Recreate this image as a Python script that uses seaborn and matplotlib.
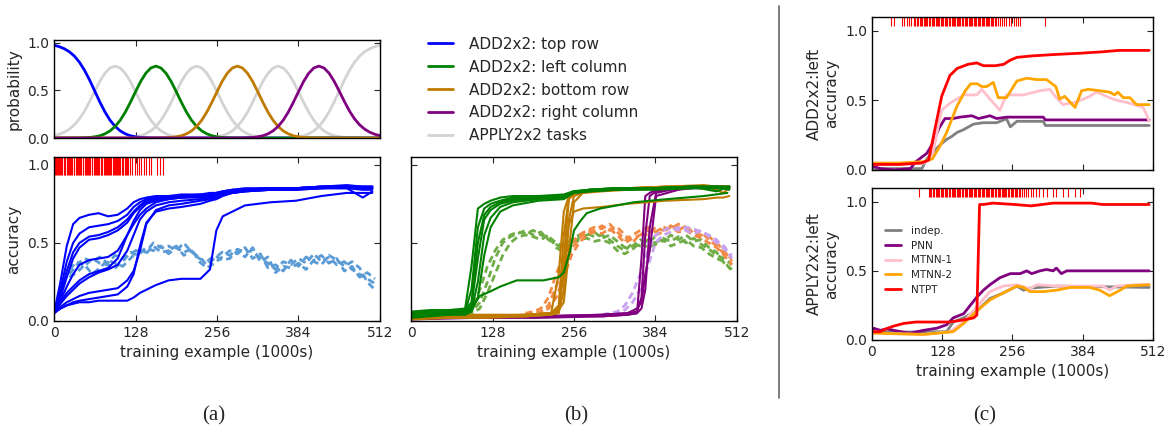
import numpy as np
import pandas as pd
import seaborn as sns
import matplotlib.pyplot as plt
from matplotlib.lines import Line2D

# ---------------- data ----------------
# (a) top: task mixture probability over training (x every 8k examples)
prob_x = np.arange(0, 513, 8)
prob_top_row = [0.975, 0.961, 0.939, 0.907, 0.861, 0.796, 0.711, 0.608, 0.493, 0.378, 0.274,
                0.187, 0.122, 0.075, 0.044, 0.024, 0.013, 0.006, 0.003, 0.001, 0.0005,
                0, 0, 0, 0, 0, 0, 0, 0, 0, 0, 0, 0, 0, 0, 0, 0, 0, 0, 0, 0, 0, 0,
                0, 0, 0, 0, 0, 0, 0, 0, 0, 0, 0, 0, 0, 0, 0, 0, 0, 0, 0, 0, 0, 0]
prob_left_col = [0, 0, 0.0001, 0.0003, 0.0006, 0.0013, 0.003, 0.006, 0.013, 0.024, 0.044, 0.075,
                 0.122, 0.187, 0.273, 0.376, 0.487, 0.594, 0.680, 0.736, 0.756, 0.736, 0.680,
                 0.594, 0.487, 0.376, 0.273, 0.187, 0.122, 0.075, 0.044, 0.024, 0.013, 0.006,
                 0.003, 0.001, 0.0005,
                 0, 0, 0, 0, 0, 0, 0, 0, 0, 0, 0, 0, 0, 0, 0, 0, 0, 0, 0, 0, 0, 0, 0, 0, 0, 0, 0, 0]
prob_bottom_row = [0, 0, 0, 0, 0, 0, 0, 0, 0, 0, 0, 0, 0, 0, 0, 0, 0, 0, 0, 0,
                   0.0005, 0.001, 0.003, 0.006, 0.013, 0.024, 0.044, 0.075, 0.122, 0.187, 0.273,
                   0.376, 0.487, 0.594, 0.680, 0.736, 0.756, 0.736, 0.680, 0.594, 0.487, 0.376,
                   0.273, 0.187, 0.122, 0.075, 0.044, 0.024, 0.013, 0.006, 0.003, 0.001, 0.0005,
                   0, 0, 0, 0, 0, 0, 0, 0, 0, 0, 0, 0]
prob_right_col = [0, 0, 0, 0, 0, 0, 0, 0, 0, 0, 0, 0, 0, 0, 0, 0, 0, 0, 0, 0, 0, 0, 0, 0, 0, 0,
                  0, 0, 0, 0, 0, 0, 0, 0, 0, 0,
                  0.0005, 0.001, 0.003, 0.006, 0.013, 0.024, 0.044, 0.075, 0.122, 0.187, 0.273,
                  0.376, 0.487, 0.594, 0.680, 0.736, 0.756, 0.737, 0.682, 0.597, 0.493, 0.385,
                  0.285, 0.202, 0.139, 0.093, 0.061, 0.039, 0.025]
prob_apply = [
    [0.025, 0.039, 0.061, 0.093, 0.139, 0.202, 0.285, 0.385, 0.493, 0.597, 0.682, 0.737, 0.756,
     0.736, 0.680, 0.594, 0.487, 0.376, 0.273, 0.187, 0.122, 0.075, 0.044, 0.024, 0.013, 0.006,
     0.003, 0.001, 0.0005,
     0, 0, 0, 0, 0, 0, 0, 0, 0, 0, 0, 0, 0, 0, 0, 0, 0, 0, 0, 0, 0, 0, 0, 0, 0, 0, 0, 0, 0, 0,
     0, 0, 0, 0, 0, 0],
    [0, 0, 0, 0, 0, 0, 0, 0, 0, 0, 0, 0,
     0.0005, 0.001, 0.003, 0.006, 0.013, 0.024, 0.044, 0.075, 0.122, 0.187, 0.273, 0.376,
     0.487, 0.594, 0.680, 0.736, 0.756, 0.736, 0.680, 0.594, 0.487, 0.376, 0.273, 0.187,
     0.122, 0.075, 0.044, 0.024, 0.013, 0.006, 0.003, 0.001, 0.0005,
     0, 0, 0, 0, 0, 0, 0, 0, 0, 0, 0, 0, 0, 0, 0, 0, 0, 0, 0, 0],
    [0, 0, 0, 0, 0, 0, 0, 0, 0, 0, 0, 0, 0, 0, 0, 0, 0, 0, 0, 0, 0, 0, 0, 0, 0, 0, 0, 0,
     0.0005, 0.001, 0.003, 0.006, 0.013, 0.024, 0.044, 0.075, 0.122, 0.187, 0.273, 0.376,
     0.487, 0.594, 0.680, 0.736, 0.756, 0.736, 0.680, 0.594, 0.487, 0.376, 0.273, 0.187,
     0.122, 0.075, 0.044, 0.024, 0.013, 0.006, 0.003, 0.001, 0.0005, 0, 0, 0, 0],
    [0, 0, 0, 0, 0, 0, 0, 0, 0, 0, 0, 0, 0, 0, 0, 0, 0, 0, 0, 0, 0, 0, 0, 0, 0, 0, 0, 0,
     0, 0, 0, 0, 0, 0, 0, 0, 0, 0, 0, 0, 0, 0, 0, 0,
     0.0005, 0.001, 0.003, 0.006, 0.013, 0.024, 0.044, 0.075, 0.122, 0.187, 0.274, 0.378,
     0.493, 0.608, 0.711, 0.796, 0.861, 0.907, 0.939, 0.961, 0.975],
]

# (a) bottom: ADD2x2 top row runs (solid) and APPLY runs (dashed)
a_x = [0, 10, 20, 30, 40, 55, 70, 85, 100, 115, 125, 135, 145, 160, 180, 200, 230, 245,
       255, 265, 280, 300, 340, 380, 420, 460, 485, 500]
a_runs = [
    [0.05, 0.25, 0.48, 0.62, 0.66, 0.68, 0.69, 0.67, 0.68, 0.72, 0.76, 0.78, 0.79, 0.80, 0.80, 0.81, 0.81, 0.82, 0.82, 0.83, 0.84, 0.84, 0.85, 0.85, 0.86, 0.87, 0.86, 0.86],
    [0.05, 0.20, 0.38, 0.50, 0.56, 0.60, 0.61, 0.62, 0.64, 0.68, 0.73, 0.76, 0.78, 0.79, 0.80, 0.80, 0.81, 0.81, 0.82, 0.83, 0.84, 0.85, 0.85, 0.85, 0.86, 0.86, 0.85, 0.85],
    [0.05, 0.17, 0.32, 0.44, 0.50, 0.54, 0.55, 0.57, 0.60, 0.65, 0.70, 0.74, 0.77, 0.79, 0.79, 0.80, 0.80, 0.80, 0.81, 0.82, 0.83, 0.84, 0.85, 0.85, 0.86, 0.86, 0.86, 0.86],
    [0.05, 0.15, 0.28, 0.40, 0.47, 0.52, 0.53, 0.55, 0.58, 0.63, 0.69, 0.73, 0.76, 0.78, 0.79, 0.79, 0.80, 0.80, 0.81, 0.82, 0.83, 0.84, 0.85, 0.85, 0.85, 0.86, 0.85, 0.85],
    [0.05, 0.13, 0.22, 0.30, 0.36, 0.39, 0.40, 0.41, 0.45, 0.55, 0.62, 0.68, 0.72, 0.76, 0.78, 0.79, 0.79, 0.80, 0.81, 0.82, 0.83, 0.84, 0.85, 0.85, 0.86, 0.86, 0.86, 0.86],
    [0.05, 0.11, 0.16, 0.20, 0.24, 0.28, 0.31, 0.33, 0.36, 0.45, 0.55, 0.65, 0.70, 0.74, 0.76, 0.77, 0.78, 0.79, 0.80, 0.81, 0.82, 0.83, 0.84, 0.84, 0.85, 0.85, 0.79, 0.83],
    [0.05, 0.09, 0.12, 0.14, 0.16, 0.18, 0.19, 0.20, 0.21, 0.26, 0.32, 0.45, 0.62, 0.71, 0.74, 0.75, 0.77, 0.78, 0.79, 0.81, 0.82, 0.83, 0.84, 0.85, 0.85, 0.86, 0.85, 0.85],
    [0.05, 0.08, 0.10, 0.12, 0.13, 0.14, 0.15, 0.16, 0.17, 0.22, 0.30, 0.48, 0.63, 0.70, 0.72, 0.73, 0.75, 0.77, 0.78, 0.80, 0.82, 0.83, 0.84, 0.84, 0.85, 0.85, 0.84, 0.84],
    [0.05, 0.08, 0.10, 0.11, 0.12, 0.12, 0.13, 0.13, 0.13, 0.13, 0.15, 0.18, 0.20, 0.23, 0.26, 0.27, 0.27, 0.33, 0.58, 0.67, 0.70, 0.74, 0.76, 0.77, 0.80, 0.82, 0.82, 0.82],
    [0.05, 0.12, 0.18, 0.22, 0.26, 0.30, 0.32, 0.34, 0.40, 0.55, 0.64, 0.71, 0.75, 0.77, 0.78, 0.79, 0.80, 0.81, 0.82, 0.82, 0.83, 0.84, 0.85, 0.85, 0.86, 0.86, 0.85, 0.85],
]
a_dash_x = np.arange(24, 505, 12)
a_dash_runs = [
    [0.30, 0.36, 0.40, 0.38, 0.41, 0.37, 0.42, 0.40, 0.43, 0.46, 0.44, 0.50, 0.47, 0.48, 0.45, 0.50, 0.44, 0.41, 0.36, 0.40, 0.44, 0.42, 0.46, 0.44, 0.45, 0.40, 0.37, 0.33, 0.38, 0.36, 0.40, 0.37, 0.43, 0.38, 0.41, 0.36, 0.38, 0.33, 0.30, 0.27, 0.24],
    [0.33, 0.38, 0.35, 0.40, 0.37, 0.36, 0.34, 0.38, 0.44, 0.42, 0.47, 0.45, 0.48, 0.43, 0.47, 0.44, 0.46, 0.38, 0.34, 0.37, 0.41, 0.45, 0.43, 0.47, 0.40, 0.43, 0.34, 0.36, 0.32, 0.39, 0.35, 0.41, 0.38, 0.36, 0.42, 0.39, 0.35, 0.38, 0.34, 0.25, 0.20],
    [0.28, 0.31, 0.36, 0.30, 0.34, 0.39, 0.37, 0.35, 0.40, 0.45, 0.43, 0.48, 0.44, 0.45, 0.48, 0.42, 0.45, 0.40, 0.38, 0.42, 0.39, 0.40, 0.45, 0.41, 0.47, 0.38, 0.41, 0.31, 0.35, 0.34, 0.37, 0.33, 0.39, 0.42, 0.37, 0.40, 0.32, 0.35, 0.28, 0.31, 0.27],
]
a_rug = [1, 3, 4, 6, 8, 10, 11, 13, 15, 17, 18, 20, 22, 24, 25, 27, 29, 31, 32, 34, 36, 38, 39,
         41, 43, 45, 46, 48, 50, 52, 53, 55, 57, 59, 60, 62, 64, 66, 67, 69, 71, 73, 74, 76, 78,
         80, 81, 83, 85, 87, 88, 90, 92, 94, 95, 97, 99, 101, 102, 104, 106, 108, 109, 111, 113,
         114, 116, 120, 123, 127, 130, 134, 137, 141, 145, 149, 153, 162, 166, 171]

# (b): left column (green), bottom row (orange), right column (purple)
g_x = [0, 30, 60, 85, 95, 105, 115, 125, 140, 160, 200, 240, 255, 280, 320, 380, 440, 480, 500]
g_runs = [
    [0.06, 0.07, 0.07, 0.08, 0.35, 0.72, 0.75, 0.77, 0.79, 0.80, 0.80, 0.81, 0.83, 0.84, 0.85, 0.85, 0.86, 0.86, 0.86],
    [0.05, 0.06, 0.06, 0.06, 0.20, 0.60, 0.72, 0.75, 0.77, 0.79, 0.80, 0.80, 0.83, 0.84, 0.84, 0.85, 0.86, 0.86, 0.85],
    [0.04, 0.05, 0.05, 0.05, 0.10, 0.40, 0.65, 0.71, 0.75, 0.77, 0.79, 0.80, 0.82, 0.84, 0.85, 0.85, 0.86, 0.83, 0.86],
    [0.03, 0.04, 0.04, 0.05, 0.07, 0.25, 0.55, 0.66, 0.73, 0.76, 0.78, 0.79, 0.82, 0.83, 0.84, 0.85, 0.85, 0.85, 0.85],
    [0.02, 0.03, 0.04, 0.04, 0.06, 0.15, 0.42, 0.60, 0.70, 0.74, 0.77, 0.78, 0.82, 0.83, 0.84, 0.84, 0.85, 0.86, 0.86],
    [0.05, 0.06, 0.06, 0.07, 0.12, 0.50, 0.68, 0.73, 0.76, 0.78, 0.79, 0.79, 0.82, 0.84, 0.85, 0.85, 0.86, 0.86, 0.84],
]
g_slow_x = [0, 60, 95, 108, 125, 140, 166, 208, 232, 240, 250, 256, 266, 276, 297, 350, 402, 460, 497]
g_slow_y = [0.05, 0.06, 0.08, 0.16, 0.19, 0.22, 0.26, 0.26, 0.28, 0.31, 0.45, 0.58, 0.64, 0.69, 0.72, 0.76, 0.78, 0.80, 0.82]
gd_x = np.arange(0, 505, 12)
gd_runs = [
    [0.05, 0.05, 0.05, 0.05, 0.05, 0.05, 0.05, 0.06, 0.08, 0.20, 0.35, 0.45, 0.52, 0.55, 0.57, 0.56, 0.58, 0.55, 0.54, 0.50, 0.48, 0.52, 0.55, 0.56, 0.54, 0.55, 0.52, 0.48, 0.45, 0.50, 0.48, 0.52, 0.50, 0.53, 0.51, 0.54, 0.50, 0.53, 0.49, 0.46, 0.42, 0.40, 0.36],
    [0.04, 0.04, 0.04, 0.04, 0.04, 0.04, 0.05, 0.05, 0.06, 0.12, 0.25, 0.40, 0.50, 0.54, 0.56, 0.58, 0.55, 0.57, 0.52, 0.49, 0.46, 0.50, 0.53, 0.55, 0.57, 0.53, 0.55, 0.51, 0.47, 0.48, 0.52, 0.50, 0.54, 0.51, 0.55, 0.52, 0.55, 0.51, 0.52, 0.47, 0.44, 0.37, 0.33],
    [0.03, 0.03, 0.03, 0.03, 0.03, 0.03, 0.04, 0.04, 0.05, 0.08, 0.18, 0.30, 0.42, 0.50, 0.54, 0.55, 0.54, 0.52, 0.55, 0.47, 0.44, 0.47, 0.52, 0.53, 0.51, 0.52, 0.50, 0.45, 0.43, 0.46, 0.50, 0.47, 0.49, 0.52, 0.48, 0.50, 0.52, 0.48, 0.47, 0.43, 0.40, 0.38, 0.32],
]
o_x = [0, 60, 120, 180, 220, 232, 240, 248, 256, 270, 300, 340, 400, 460, 480, 490, 500]
o_runs = [
    [0.02, 0.02, 0.03, 0.03, 0.04, 0.06, 0.40, 0.78, 0.81, 0.83, 0.84, 0.85, 0.86, 0.86, 0.84, 0.82, 0.85],
    [0.03, 0.03, 0.03, 0.04, 0.05, 0.10, 0.55, 0.79, 0.82, 0.83, 0.84, 0.85, 0.86, 0.87, 0.86, 0.86, 0.86],
    [0.01, 0.02, 0.02, 0.03, 0.04, 0.05, 0.20, 0.65, 0.80, 0.82, 0.84, 0.85, 0.85, 0.86, 0.86, 0.85, 0.86],
    [0.03, 0.04, 0.04, 0.04, 0.05, 0.07, 0.12, 0.45, 0.76, 0.82, 0.83, 0.84, 0.85, 0.86, 0.86, 0.86, 0.86],
    [0.02, 0.02, 0.03, 0.03, 0.05, 0.30, 0.70, 0.80, 0.82, 0.83, 0.84, 0.85, 0.86, 0.86, 0.85, 0.86, 0.86],
    [0.02, 0.03, 0.03, 0.04, 0.05, 0.08, 0.30, 0.62, 0.70, 0.72, 0.73, 0.75, 0.77, 0.78, 0.79, 0.79, 0.80],
]
od_x = np.arange(180, 505, 12)
od_runs = [
    [0.05, 0.06, 0.08, 0.15, 0.30, 0.42, 0.50, 0.55, 0.58, 0.60, 0.59, 0.62, 0.57, 0.52, 0.55, 0.58, 0.60, 0.57, 0.60, 0.59, 0.62, 0.60, 0.58, 0.57, 0.52, 0.48, 0.43, 0.40],
    [0.04, 0.05, 0.06, 0.10, 0.22, 0.35, 0.46, 0.53, 0.57, 0.58, 0.61, 0.58, 0.60, 0.55, 0.50, 0.56, 0.55, 0.60, 0.58, 0.61, 0.58, 0.61, 0.56, 0.55, 0.54, 0.50, 0.45, 0.38],
    [0.03, 0.04, 0.05, 0.08, 0.15, 0.28, 0.42, 0.50, 0.55, 0.57, 0.56, 0.59, 0.55, 0.50, 0.53, 0.55, 0.58, 0.55, 0.57, 0.60, 0.57, 0.58, 0.55, 0.53, 0.50, 0.47, 0.42, 0.36],
]
p_x = [0, 100, 200, 300, 340, 355, 362, 368, 375, 385, 420, 460, 500]
p_runs = [
    [0.02, 0.02, 0.03, 0.03, 0.04, 0.05, 0.40, 0.80, 0.82, 0.84, 0.85, 0.86, 0.86],
    [0.03, 0.03, 0.03, 0.04, 0.05, 0.06, 0.15, 0.55, 0.80, 0.83, 0.85, 0.86, 0.86],
    [0.01, 0.02, 0.02, 0.03, 0.04, 0.05, 0.08, 0.20, 0.60, 0.82, 0.85, 0.85, 0.86],
    [0.02, 0.03, 0.03, 0.04, 0.05, 0.08, 0.12, 0.30, 0.45, 0.80, 0.84, 0.86, 0.85],
]
pd_x = np.arange(300, 505, 12)
pd_runs = [
    [0.04, 0.05, 0.06, 0.10, 0.18, 0.30, 0.45, 0.55, 0.58, 0.60, 0.58, 0.60, 0.59, 0.57, 0.55, 0.52, 0.46, 0.42],
    [0.03, 0.04, 0.05, 0.07, 0.12, 0.20, 0.35, 0.50, 0.55, 0.57, 0.60, 0.58, 0.56, 0.58, 0.54, 0.50, 0.48, 0.40],
]

# (c) top: ADD2x2 left column accuracy per method
ct_indep_x = [0, 50, 91, 100, 112, 124, 136, 145, 155, 167, 185, 203, 227, 240, 245, 252, 264, 312, 316, 505]
ct_indep_y = [0.01, 0.01, 0.01, 0.08, 0.13, 0.18, 0.22, 0.24, 0.27, 0.29, 0.33, 0.34, 0.34, 0.36, 0.37, 0.31, 0.35, 0.35, 0.32, 0.32]
ct_pnn_x = [0, 15, 40, 70, 80, 100, 112, 122, 133, 148, 160, 182, 194, 205, 215, 227, 245, 260, 312, 316, 505]
ct_pnn_y = [0.03, 0.01, 0.00, 0.01, 0.06, 0.12, 0.20, 0.30, 0.37, 0.37, 0.38, 0.39, 0.37, 0.38, 0.39, 0.37, 0.38, 0.38, 0.38, 0.36, 0.36]
ct_mtnn1_x = [0, 50, 95, 110, 120, 127, 142, 167, 191, 200, 215, 233, 245, 276, 306, 324, 336, 348, 373, 385, 397, 409, 427, 439, 448, 470, 485, 494, 500, 505]
ct_mtnn1_y = [0.04, 0.04, 0.05, 0.10, 0.30, 0.43, 0.48, 0.54, 0.54, 0.58, 0.51, 0.43, 0.54, 0.54, 0.57, 0.58, 0.52, 0.47, 0.49, 0.51, 0.53, 0.56, 0.53, 0.51, 0.50, 0.48, 0.46, 0.45, 0.40, 0.35]
ct_mtnn2_x = [0, 50, 95, 110, 125, 136, 155, 170, 180, 192, 200, 209, 221, 230, 245, 264, 282, 300, 318, 335, 342, 351, 370, 382, 394, 415, 433, 442, 448, 458, 470, 482, 505]
ct_mtnn2_y = [0.05, 0.05, 0.06, 0.08, 0.18, 0.27, 0.46, 0.57, 0.62, 0.62, 0.60, 0.60, 0.63, 0.52, 0.52, 0.64, 0.66, 0.65, 0.65, 0.60, 0.51, 0.53, 0.45, 0.57, 0.58, 0.57, 0.56, 0.54, 0.56, 0.52, 0.52, 0.47, 0.47]
ct_ntpt_x = [0, 50, 90, 103, 115, 127, 142, 155, 175, 191, 203, 225, 240, 252, 264, 290, 330, 380, 420, 450, 480, 505]
ct_ntpt_y = [0.04, 0.04, 0.05, 0.07, 0.30, 0.53, 0.68, 0.73, 0.76, 0.77, 0.75, 0.75, 0.76, 0.79, 0.81, 0.82, 0.83, 0.84, 0.85, 0.86, 0.86, 0.86]
ct_rug = [35, 41, 55, 59, 64, 67, 71, 76, 79, 82, 84, 87, 89, 92, 94, 97, 99, 101, 104, 106, 109,
          111, 113, 116, 118, 121, 123, 125, 128, 130, 133, 135, 137, 140, 142, 145, 147, 149, 152,
          154, 157, 159, 161, 164, 166, 169, 171, 173, 176, 178, 181, 183, 185, 188, 190, 193, 195,
          197, 200, 202, 205, 207, 209, 212, 214, 217, 219, 221, 224, 226, 230, 233, 237, 240, 244,
          249, 253, 258, 262, 266, 270, 316]

# (c) bottom: APPLY2x2 left column accuracy per method
cb_indep_x = [0, 136, 148, 167, 191, 215, 239, 264, 276, 288, 336, 505]
cb_indep_y = [0.055, 0.06, 0.13, 0.16, 0.21, 0.30, 0.34, 0.39, 0.36, 0.375, 0.39, 0.38]
cb_pnn_x = [0, 3, 15, 27, 52, 70, 94, 118, 136, 148, 167, 179, 191, 203, 215, 233, 252, 270, 282, 291, 306, 318, 330, 336, 345, 355, 505]
cb_pnn_y = [0.07, 0.085, 0.07, 0.08, 0.06, 0.05, 0.07, 0.085, 0.11, 0.16, 0.19, 0.25, 0.31, 0.36, 0.40, 0.45, 0.48, 0.48, 0.50, 0.48, 0.50, 0.51, 0.50, 0.52, 0.48, 0.50, 0.50]
cb_mtnn1_x = [0, 94, 142, 167, 191, 215, 239, 264, 288, 300, 336, 397, 421, 433, 445, 482, 505]
cb_mtnn1_y = [0.05, 0.04, 0.06, 0.13, 0.24, 0.35, 0.39, 0.40, 0.37, 0.40, 0.39, 0.39, 0.39, 0.36, 0.39, 0.40, 0.40]
cb_mtnn2_x = [0, 94, 148, 167, 191, 215, 239, 264, 276, 288, 312, 336, 361, 397, 415, 433, 452, 464, 505]
cb_mtnn2_y = [0.05, 0.04, 0.06, 0.12, 0.21, 0.29, 0.34, 0.39, 0.38, 0.35, 0.35, 0.36, 0.38, 0.38, 0.36, 0.32, 0.36, 0.39, 0.40]
cb_ntpt_x = [0, 15, 25, 39, 58, 80, 110, 142, 167, 185, 191, 196, 203, 220, 260, 290, 330, 360, 400, 420, 505]
cb_ntpt_y = [0.06, 0.06, 0.08, 0.10, 0.12, 0.13, 0.13, 0.13, 0.145, 0.16, 0.18, 0.98, 0.98, 0.99, 0.98, 0.97, 0.99, 0.99, 0.99, 0.98, 0.98]
cb_rug = [85, 103, 106, 108, 111, 113, 116, 118, 121, 123, 125, 128, 130, 133, 135, 137, 140, 142,
          145, 147, 149, 152, 154, 157, 159, 161, 164, 166, 169, 171, 173, 176, 178, 181, 183, 185,
          188, 190, 193, 195, 197, 200, 202, 205, 207, 209, 212, 214, 217, 219, 221, 224, 226, 229,
          231, 233, 236, 238, 241, 243, 245, 248, 250, 253, 255, 257, 260, 262, 265, 267, 270, 273,
          277, 281, 285, 290, 294, 299, 305, 312, 318, 330, 336, 348, 357, 370, 379]

task_labels = ["ADD2x2: top row", "ADD2x2: left column", "ADD2x2: bottom row",
               "ADD2x2: right column", "APPLY2x2 tasks"]
method_labels = ["indep.", "PNN", "MTNN-1", "MTNN-2", "NTPT"]
xticks = [0, 128, 256, 384, 512]

C_BLUE, C_GREEN, C_ORANGE, C_PURPLE, C_GRAY = "#0000ff", "#008000", "#bf7a00", "#800080", "#d3d3d3"
C_LBLUE, C_LGREEN, C_CORAL, C_LILAC = "#5b9bd5", "#70ad47", "#f28a45", "#c8a2f0"
method_colors = ["#808080", "#800080", "#ffc0cb", "#ffa500", "#ff0000"]


def runs_frame(x, runs):
    return pd.DataFrame({
        "x": np.tile(np.asarray(x), len(runs)),
        "y": np.concatenate([np.asarray(r, dtype=float) for r in runs]),
        "run": np.repeat(np.arange(len(runs)), len(x)),
    })


def draw_runs(ax, x, runs, color, lw=1.5, ls="-"):
    sns.lineplot(data=runs_frame(x, runs), x="x", y="y", units="run", estimator=None,
                 color=color, lw=lw, linestyle=ls, legend=False, ax=ax)


def rug(ax, xs, frac):
    ax.vlines(xs, 1 - frac, 1, transform=ax.get_xaxis_transform(), color="red", lw=0.8)


# ---------------- style ----------------
sns.set_style("ticks", {"xtick.direction": "in", "ytick.direction": "in"})
plt.rcParams.update({
    "font.family": ["DejaVu Sans"],
    "xtick.top": True, "ytick.right": True,
    "xtick.major.size": 4, "ytick.major.size": 4,
    "xtick.labelsize": 10, "ytick.labelsize": 10,
    "axes.labelsize": 11, "axes.linewidth": 1.0,
    "axes.edgecolor": "black",
})

fig = plt.figure(figsize=(11.67, 4.26), dpi=100)
ax_p = fig.add_axes([0.0463, 0.676, 0.2793, 0.230])
ax_a = fig.add_axes([0.0463, 0.2465, 0.2793, 0.385])
ax_b = fig.add_axes([0.3522, 0.2465, 0.2793, 0.385])
ax_ct = fig.add_axes([0.7472, 0.601, 0.2408, 0.359])
ax_cb = fig.add_axes([0.7472, 0.2019, 0.2408, 0.357])

dash = (0, (2.5, 1.5))

# (a) top
draw_runs(ax_p, prob_x, prob_apply, C_GRAY, lw=2)
for vals, col in zip([prob_top_row, prob_left_col, prob_bottom_row, prob_right_col],
                     [C_BLUE, C_GREEN, C_ORANGE, C_PURPLE]):
    sns.lineplot(x=prob_x, y=vals, color=col, lw=2, ax=ax_p)
ax_p.set_ylim(0, 1.03)
ax_p.set_yticks([0, 0.5, 1.0])
ax_p.set_xticklabels([])
ax_p.set_xlabel("")
ax_p.set_ylabel("probability")

# (a) bottom
draw_runs(ax_a, a_dash_x, a_dash_runs, C_LBLUE, lw=2, ls=dash)
draw_runs(ax_a, a_x, a_runs, C_BLUE, lw=1.5)
rug(ax_a, a_rug, 0.11)
ax_a.set_ylim(0, 1.05)
ax_a.set_ylabel("accuracy")

# (b)
draw_runs(ax_b, gd_x, gd_runs, C_LGREEN, lw=2, ls=dash)
draw_runs(ax_b, od_x, od_runs, C_CORAL, lw=2, ls=dash)
draw_runs(ax_b, pd_x, pd_runs, C_LILAC, lw=2, ls=dash)
draw_runs(ax_b, p_x, p_runs, C_PURPLE, lw=1.5)
draw_runs(ax_b, o_x, o_runs, C_ORANGE, lw=1.5)
draw_runs(ax_b, g_x, g_runs, C_GREEN, lw=1.5)
sns.lineplot(x=g_slow_x, y=g_slow_y, color=C_GREEN, lw=1.5, ax=ax_b)
ax_b.set_ylim(0, 1.05)
ax_b.set_ylabel("")

for ax in (ax_a, ax_b):
    ax.set_yticks([0, 0.5, 1.0])
    ax.set_xlabel("training example (1000s)")
ax_b.set_yticklabels([])

# (c)
for ax, series in [
    (ax_ct, [(ct_indep_x, ct_indep_y), (ct_pnn_x, ct_pnn_y), (ct_mtnn1_x, ct_mtnn1_y),
             (ct_mtnn2_x, ct_mtnn2_y), (ct_ntpt_x, ct_ntpt_y)]),
    (ax_cb, [(cb_indep_x, cb_indep_y), (cb_pnn_x, cb_pnn_y), (cb_mtnn1_x, cb_mtnn1_y),
             (cb_mtnn2_x, cb_mtnn2_y), (cb_ntpt_x, cb_ntpt_y)]),
]:
    for (xs, ys), col, lab in zip(series, method_colors, method_labels):
        sns.lineplot(x=xs, y=ys, color=col, lw=2, label=lab, ax=ax)
    ax.set_ylim(0, 1.1)
    ax.set_yticks([0, 0.5, 1.0])

rug(ax_ct, ct_rug, 0.06)
rug(ax_cb, cb_rug, 0.06)
ax_ct.legend_.remove()
ax_ct.set_xticklabels([])
ax_ct.set_ylabel("ADD2x2:left\naccuracy")
ax_cb.set_ylabel("APPLY2x2:left\naccuracy")
ax_cb.set_xlabel("training example (1000s)")
ax_cb.legend(loc="upper left", bbox_to_anchor=(0.046, 0.75), frameon=False, fontsize=7.5,
             borderaxespad=0, borderpad=0, handlelength=1.5, handletextpad=1.0, labelspacing=0.45)

for ax in (ax_p, ax_a, ax_b, ax_ct, ax_cb):
    ax.set_xlim(0, 512)
    ax.set_xticks(xticks)
    if ax is not ax_p and ax is not ax_ct:
        ax.set_xticklabels([str(t) for t in xticks])
    ax.tick_params(which="both", top=True, right=True)

# main legend
handles = [Line2D([], [], color=c, lw=2) for c in [C_BLUE, C_GREEN, C_ORANGE, C_PURPLE, C_GRAY]]
fig.legend(handles, task_labels, loc="upper left", bbox_to_anchor=(0.3668, 0.914),
           frameon=False, fontsize=11, borderaxespad=0, borderpad=0, handlelength=1.6,
           handletextpad=1.05, labelspacing=0.52)

# divider and panel letters
fig.add_artist(Line2D([779 / 1167] * 2, [1 - 6 / 426, 1 - 398 / 426], transform=fig.transFigure,
                      color="#666666", lw=1.2))
for xpos, letter in [(214, "(a)"), (576, "(b)"), (985, "(c)")]:
    fig.text(xpos / 1167, 1 - 416 / 426, letter, ha="center", va="center",
             family="Liberation Serif", fontsize=15)

fig.savefig("out.png", dpi=100)
